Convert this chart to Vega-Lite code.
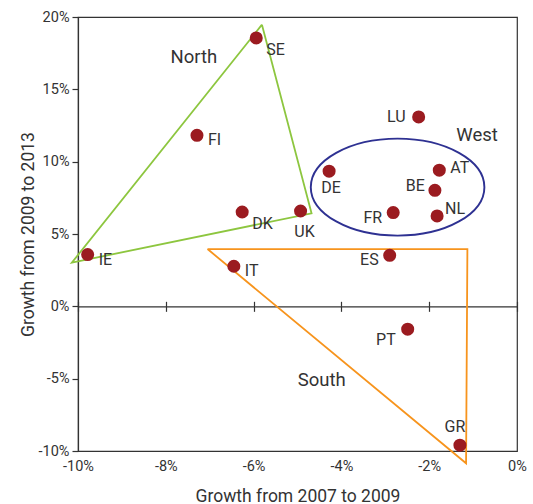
{
  "$schema": "https://vega.github.io/schema/vega-lite/v6.json",
  "width": 439,
  "height": 434,
  "autosize": "none",
  "padding": {"left": 78, "top": 17, "right": 16, "bottom": 53},
  "config": {
    "view": {"stroke": "#333333", "strokeWidth": 1.2},
    "axis": {
      "grid": false,
      "domainColor": "#333333",
      "tickColor": "#333333",
      "labelColor": "#333333",
      "titleColor": "#333333",
      "labelFont": "Roboto",
      "titleFont": "Roboto",
      "labelFontSize": 14.5,
      "titleFontSize": 17.5,
      "titleFontWeight": "normal",
      "domainWidth": 1.2,
      "tickWidth": 1.2,
      "labelFlush": false,
      "labelOverlap": false
    },
    "text": {"font": "Roboto", "color": "#333333"}
  },
  "datasets": {
    "countries": [
      {"c": "SE", "x": -5.94, "y": 18.55},
      {"c": "FI", "x": -7.29, "y": 11.82},
      {"c": "DK", "x": -6.26, "y": 6.52},
      {"c": "UK", "x": -4.93, "y": 6.59},
      {"c": "IE", "x": -9.78, "y": 3.58},
      {"c": "IT", "x": -6.45, "y": 2.77},
      {"c": "LU", "x": -2.24, "y": 13.09},
      {"c": "DE", "x": -4.28, "y": 9.34},
      {"c": "AT", "x": -1.77, "y": 9.41},
      {"c": "BE", "x": -1.87, "y": 8.02},
      {"c": "FR", "x": -2.82, "y": 6.48},
      {"c": "NL", "x": -1.82, "y": 6.25},
      {"c": "ES", "x": -2.9, "y": 3.53},
      {"c": "PT", "x": -2.49, "y": -1.58},
      {"c": "GR", "x": -1.3, "y": -9.6}
    ],
    "shapes": [
      {"region": "North", "i": 0, "x": -5.81, "y": 19.47},
      {"region": "North", "i": 1, "x": -10.14, "y": 3.02},
      {"region": "North", "i": 2, "x": -4.68, "y": 6.43},
      {"region": "North", "i": 3, "x": -5.81, "y": 19.47},
      {"region": "South", "i": 0, "x": -7.05, "y": 3.96},
      {"region": "South", "i": 1, "x": -1.13, "y": 3.96},
      {"region": "South", "i": 2, "x": -1.16, "y": -10.85},
      {"region": "South", "i": 3, "x": -7.05, "y": 3.96}
    ],
    "west": [{"region": "West", "x": -2.72, "y": 8.24}],
    "regions": [
      {"label": "North", "x": -7.36, "y": 17.24},
      {"label": "West", "x": -0.91, "y": 11.82},
      {"label": "South", "x": -4.45, "y": -5.09}
    ]
  },
  "resolve": {"axis": {"x": "independent", "y": "independent"}},
  "layer": [
    {
      "data": {"name": "shapes"},
      "mark": {"type": "line", "strokeWidth": 1.8, "clip": false},
      "encoding": {
        "x": {
          "field": "x", "type": "quantitative",
          "scale": {"domain": [-10, 0], "nice": false, "zero": false},
          "axis": {
            "orient": "bottom", "values": [-10, -8, -6, -4, -2, 0],
            "labelExpr": "datum.value + '%'", "domain": false, "ticks": false, "tickSize": 0,
            "labelPadding": 8, "title": "Growth from 2007 to 2009",
            "titleBaseline": "alphabetic", "titleX": 219.5, "titleY": 50
          }
        },
        "y": {
          "field": "y", "type": "quantitative",
          "scale": {"domain": [-10, 20], "nice": false, "zero": false},
          "axis": null
        },
        "order": {"field": "i"},
        "color": {
          "field": "region", "type": "nominal",
          "scale": {"domain": ["North", "South"], "range": ["#8DC63F", "#F7941D"]},
          "legend": null
        }
      }
    },
    {
      "data": {"name": "west"},
      "mark": {
        "type": "point",
        "shape": "M-1,0A1,0.5588,0,1,1,1,0A1,0.5588,0,1,1,-1,0Z",
        "size": 30137, "filled": false, "stroke": "#2E3192", "strokeWidth": 1.9, "opacity": 1
      },
      "encoding": {
        "x": {
          "field": "x", "type": "quantitative",
          "axis": {
            "orient": "top", "offset": -289.33, "values": [-10, -8, -6, -4, -2, 0],
            "labels": false, "domain": false, "ticks": true, "tickSize": 5, "title": null
          }
        },
        "y": {
          "field": "y", "type": "quantitative",
          "axis": {
            "orient": "left",
            "values": [-10, -5, 0, 5, 10, 15, 20],
            "labelExpr": "datum.value + '%'", "tickSize": 6, "labelPadding": 3,
            "title": "Growth from 2009 to 2013",
            "titleBaseline": "alphabetic", "titleX": -45, "titleY": 217
          }
        }
      }
    },
    {
      "data": {"name": "countries"},
      "mark": {"type": "circle", "size": 170, "color": "#9B1B20", "opacity": 1},
      "encoding": {
        "x": {
          "field": "x", "type": "quantitative",
          "axis": {
            "orient": "bottom", "offset": -144.67, "values": [-10, -8, -6, -4, -2, 0],
            "labels": false, "domain": true, "ticks": true, "tickSize": 5, "title": null
          }
        },
        "y": {"field": "y", "type": "quantitative", "axis": null}
      }
    },
    {
      "data": {"name": "countries"},
      "transform": [{"filter": {"field": "c", "oneOf": ["IT", "IE", "FI"]}}],
      "mark": {"type": "text", "align": "left", "baseline": "middle", "dx": 11, "dy": 5, "fontSize": 16},
      "encoding": {
        "x": {"field": "x", "type": "quantitative", "axis": null},
        "y": {"field": "y", "type": "quantitative", "axis": null},
        "text": {"field": "c"}
      }
    },
    {
      "data": {"name": "countries"},
      "transform": [{"filter": {"field": "c", "oneOf": ["SE", "DK"]}}],
      "mark": {"type": "text", "align": "left", "baseline": "middle", "dx": 10, "dy": 12, "fontSize": 16},
      "encoding": {
        "x": {"field": "x", "type": "quantitative", "axis": null},
        "y": {"field": "y", "type": "quantitative", "axis": null},
        "text": {"field": "c"}
      }
    },
    {
      "data": {"name": "countries"},
      "transform": [{"filter": {"field": "c", "oneOf": ["AT"]}}],
      "mark": {"type": "text", "align": "left", "baseline": "middle", "dx": 11, "dy": -2, "fontSize": 16},
      "encoding": {
        "x": {"field": "x", "type": "quantitative", "axis": null},
        "y": {"field": "y", "type": "quantitative", "axis": null},
        "text": {"field": "c"}
      }
    },
    {
      "data": {"name": "countries"},
      "transform": [{"filter": {"field": "c", "oneOf": ["NL"]}}],
      "mark": {"type": "text", "align": "left", "baseline": "middle", "dx": 8, "dy": -7, "fontSize": 16},
      "encoding": {
        "x": {"field": "x", "type": "quantitative", "axis": null},
        "y": {"field": "y", "type": "quantitative", "axis": null},
        "text": {"field": "c"}
      }
    },
    {
      "data": {"name": "countries"},
      "transform": [{"filter": {"field": "c", "oneOf": ["LU"]}}],
      "mark": {"type": "text", "align": "right", "baseline": "middle", "dx": -13, "dy": 0, "fontSize": 16},
      "encoding": {
        "x": {"field": "x", "type": "quantitative", "axis": null},
        "y": {"field": "y", "type": "quantitative", "axis": null},
        "text": {"field": "c"}
      }
    },
    {
      "data": {"name": "countries"},
      "transform": [{"filter": {"field": "c", "oneOf": ["FR", "ES"]}}],
      "mark": {"type": "text", "align": "right", "baseline": "middle", "dx": -11, "dy": 5, "fontSize": 16},
      "encoding": {
        "x": {"field": "x", "type": "quantitative", "axis": null},
        "y": {"field": "y", "type": "quantitative", "axis": null},
        "text": {"field": "c"}
      }
    },
    {
      "data": {"name": "countries"},
      "transform": [{"filter": {"field": "c", "oneOf": ["BE"]}}],
      "mark": {"type": "text", "align": "right", "baseline": "middle", "dx": -10, "dy": -4, "fontSize": 16},
      "encoding": {
        "x": {"field": "x", "type": "quantitative", "axis": null},
        "y": {"field": "y", "type": "quantitative", "axis": null},
        "text": {"field": "c"}
      }
    },
    {
      "data": {"name": "countries"},
      "transform": [{"filter": {"field": "c", "oneOf": ["PT"]}}],
      "mark": {"type": "text", "align": "right", "baseline": "middle", "dx": -12, "dy": 11, "fontSize": 16},
      "encoding": {
        "x": {"field": "x", "type": "quantitative", "axis": null},
        "y": {"field": "y", "type": "quantitative", "axis": null},
        "text": {"field": "c"}
      }
    },
    {
      "data": {"name": "countries"},
      "transform": [{"filter": {"field": "c", "oneOf": ["UK"]}}],
      "mark": {"type": "text", "align": "center", "baseline": "middle", "dx": 4, "dy": 21, "fontSize": 16},
      "encoding": {
        "x": {"field": "x", "type": "quantitative", "axis": null},
        "y": {"field": "y", "type": "quantitative", "axis": null},
        "text": {"field": "c"}
      }
    },
    {
      "data": {"name": "countries"},
      "transform": [{"filter": {"field": "c", "oneOf": ["DE"]}}],
      "mark": {"type": "text", "align": "center", "baseline": "middle", "dx": 2, "dy": 17, "fontSize": 16},
      "encoding": {
        "x": {"field": "x", "type": "quantitative", "axis": null},
        "y": {"field": "y", "type": "quantitative", "axis": null},
        "text": {"field": "c"}
      }
    },
    {
      "data": {"name": "countries"},
      "transform": [{"filter": {"field": "c", "oneOf": ["GR"]}}],
      "mark": {"type": "text", "align": "center", "baseline": "middle", "dx": -5, "dy": -18, "fontSize": 16},
      "encoding": {
        "x": {"field": "x", "type": "quantitative", "axis": null},
        "y": {"field": "y", "type": "quantitative", "axis": null},
        "text": {"field": "c"}
      }
    },
    {
      "data": {"name": "regions"},
      "mark": {"type": "text", "align": "center", "baseline": "middle", "fontSize": 18.5},
      "encoding": {
        "x": {"field": "x", "type": "quantitative", "axis": null},
        "y": {"field": "y", "type": "quantitative", "axis": null},
        "text": {"field": "label"}
      }
    }
  ]
}
